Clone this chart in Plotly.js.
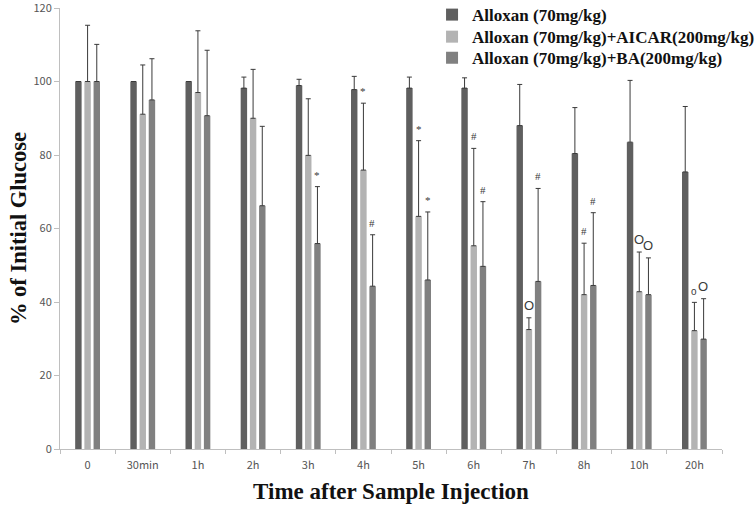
<!DOCTYPE html>
<html><head><meta charset="utf-8">
<script src="https://cdn.plot.ly/plotly-3.0.1.min.js"></script>
<style>html,body{margin:0;padding:0;background:#fff}#chart{width:755px;height:510px}</style>
</head><body><div id="chart"></div>
<script>
const categories = ["0","30min","1h","2h","3h","4h","5h","6h","7h","8h","10h","20h"];
const seriesNames = ["Alloxan (70mg/kg)","Alloxan (70mg/kg)+AICAR(200mg/kg)","Alloxan (70mg/kg)+BA(200mg/kg)"];
const alloxan      = [100, 100, 100, 98.2, 98.9, 97.8, 98.2, 98.2, 88.0, 80.4, 83.5, 75.4];
const alloxanErr   = [0, 0, 0, 3.0, 1.7, 3.6, 3.0, 2.8, 11.2, 12.5, 16.8, 17.8];
const aicar        = [100, 91.1, 97.0, 90.0, 79.9, 75.9, 63.3, 55.3, 32.5, 42.0, 42.8, 32.2];
const aicarErr     = [15.3, 13.4, 16.8, 13.3, 15.4, 18.2, 20.6, 26.5, 3.2, 14.0, 10.8, 7.7];
const ba           = [100, 95.0, 90.7, 66.2, 55.9, 44.3, 46.0, 49.7, 45.6, 44.5, 42.0, 29.9];
const baErr        = [10.1, 11.2, 17.8, 21.6, 15.5, 14.0, 18.5, 17.6, 25.3, 19.8, 10.0, 11.0];
const aicarSig     = ["","","","","","*","*","#","O","#","O","o"];
const baSig        = ["","","","","*","#","*","#","#","#","O","O"];
const yTicks       = [0, 20, 40, 60, 80, 100, 120];

const colors = ["#5f5f5f","#b3b3b3","#808080"];
const vals = [alloxan, aicar, ba];
const errs = [alloxanErr, aicarErr, baErr];
const legendIds = ["legend","legend2","legend3"];

const traces = vals.map((v,k)=>({
  type:"bar", name:seriesNames[k], x:categories, y:v, legend:legendIds[k],
  marker:{color:colors[k], line:{width:0}},
  error_y:{type:"data", array:errs[k], arrayminus:errs[k].map(()=>0), symmetric:false,
           color:"#3a3a3a", thickness:1, width:2.5, visible:true}
}));

const annotations = [];
function addSig(sig, v, e, shift){
  sig.forEach((s,i)=>{
    if(!s) return;
    const isO = (s==="O"||s==="o");
    annotations.push({
      x:categories[i], y:v[i]+e[i], xref:"x", yref:"y", text:s, showarrow:false,
      xshift:shift, yshift: isO ? 3 : 4, yanchor:"bottom",
      font:{family:isO?"Arial, Liberation Sans, sans-serif":"Liberation Serif, serif", size: s==="o"?10:(isO?13:11), color:"#3a3a3a"}
    });
  });
}
addSig(aicarSig, aicar, aicarErr, 0);
addSig(baSig, ba, baErr, 9);

const legFont = {family:"Liberation Serif, Times New Roman, serif", size:17, color:"#111", weight:"bold"};
function leg(y){ return {x:0.562, y:y, xanchor:"left", yanchor:"middle", bgcolor:"rgba(0,0,0,0)",
                         font:legFont, itemwidth:30}; }

const layout = {
  width:755, height:510,
  margin:{l:60, r:33, t:8, b:61, autoexpand:false},
  paper_bgcolor:"#fff", plot_bgcolor:"#fff",
  barmode:"group", bargap:0.5, bargroupgap:0.3,
  showlegend:true,
  legend:leg(0.984), legend2:leg(0.934), legend3:leg(0.886),
  xaxis:{type:"category", showline:true, linecolor:"#bfbfbf", linewidth:1,
         ticks:"outside", tickson:"boundaries", ticklen:4, tickcolor:"#bfbfbf",
         showgrid:false, zeroline:false, ticklabelstandoff:6, automargin:false,
         tickfont:{family:"Noto Sans CJK KR, sans-serif", size:11, color:"#555"},
         title:{text:"<b>Time after Sample Injection</b>", standoff:11,
                font:{family:"Liberation Serif, Times New Roman, serif", size:23, color:"#111"}}},
  yaxis:{range:[0,120], tickmode:"array", tickvals:yTicks, ticktext:yTicks.map(String),
         showline:true, linecolor:"#bfbfbf", linewidth:1, automargin:false,
         ticklabeloverflow:"allow",
         ticks:"outside", ticklen:5, tickcolor:"#bfbfbf", showgrid:false, zeroline:false,
         tickfont:{family:"Noto Sans CJK KR, sans-serif", size:11, color:"#555"},
         title:{text:"<b>% of Initial Glucose</b>", standoff:0,
                font:{family:"Liberation Serif, Times New Roman, serif", size:22.5, color:"#111"}}},
  annotations:annotations
};
Plotly.newPlot("chart", traces, layout, {displayModeBar:false, staticPlot:true});
</script></body></html>
